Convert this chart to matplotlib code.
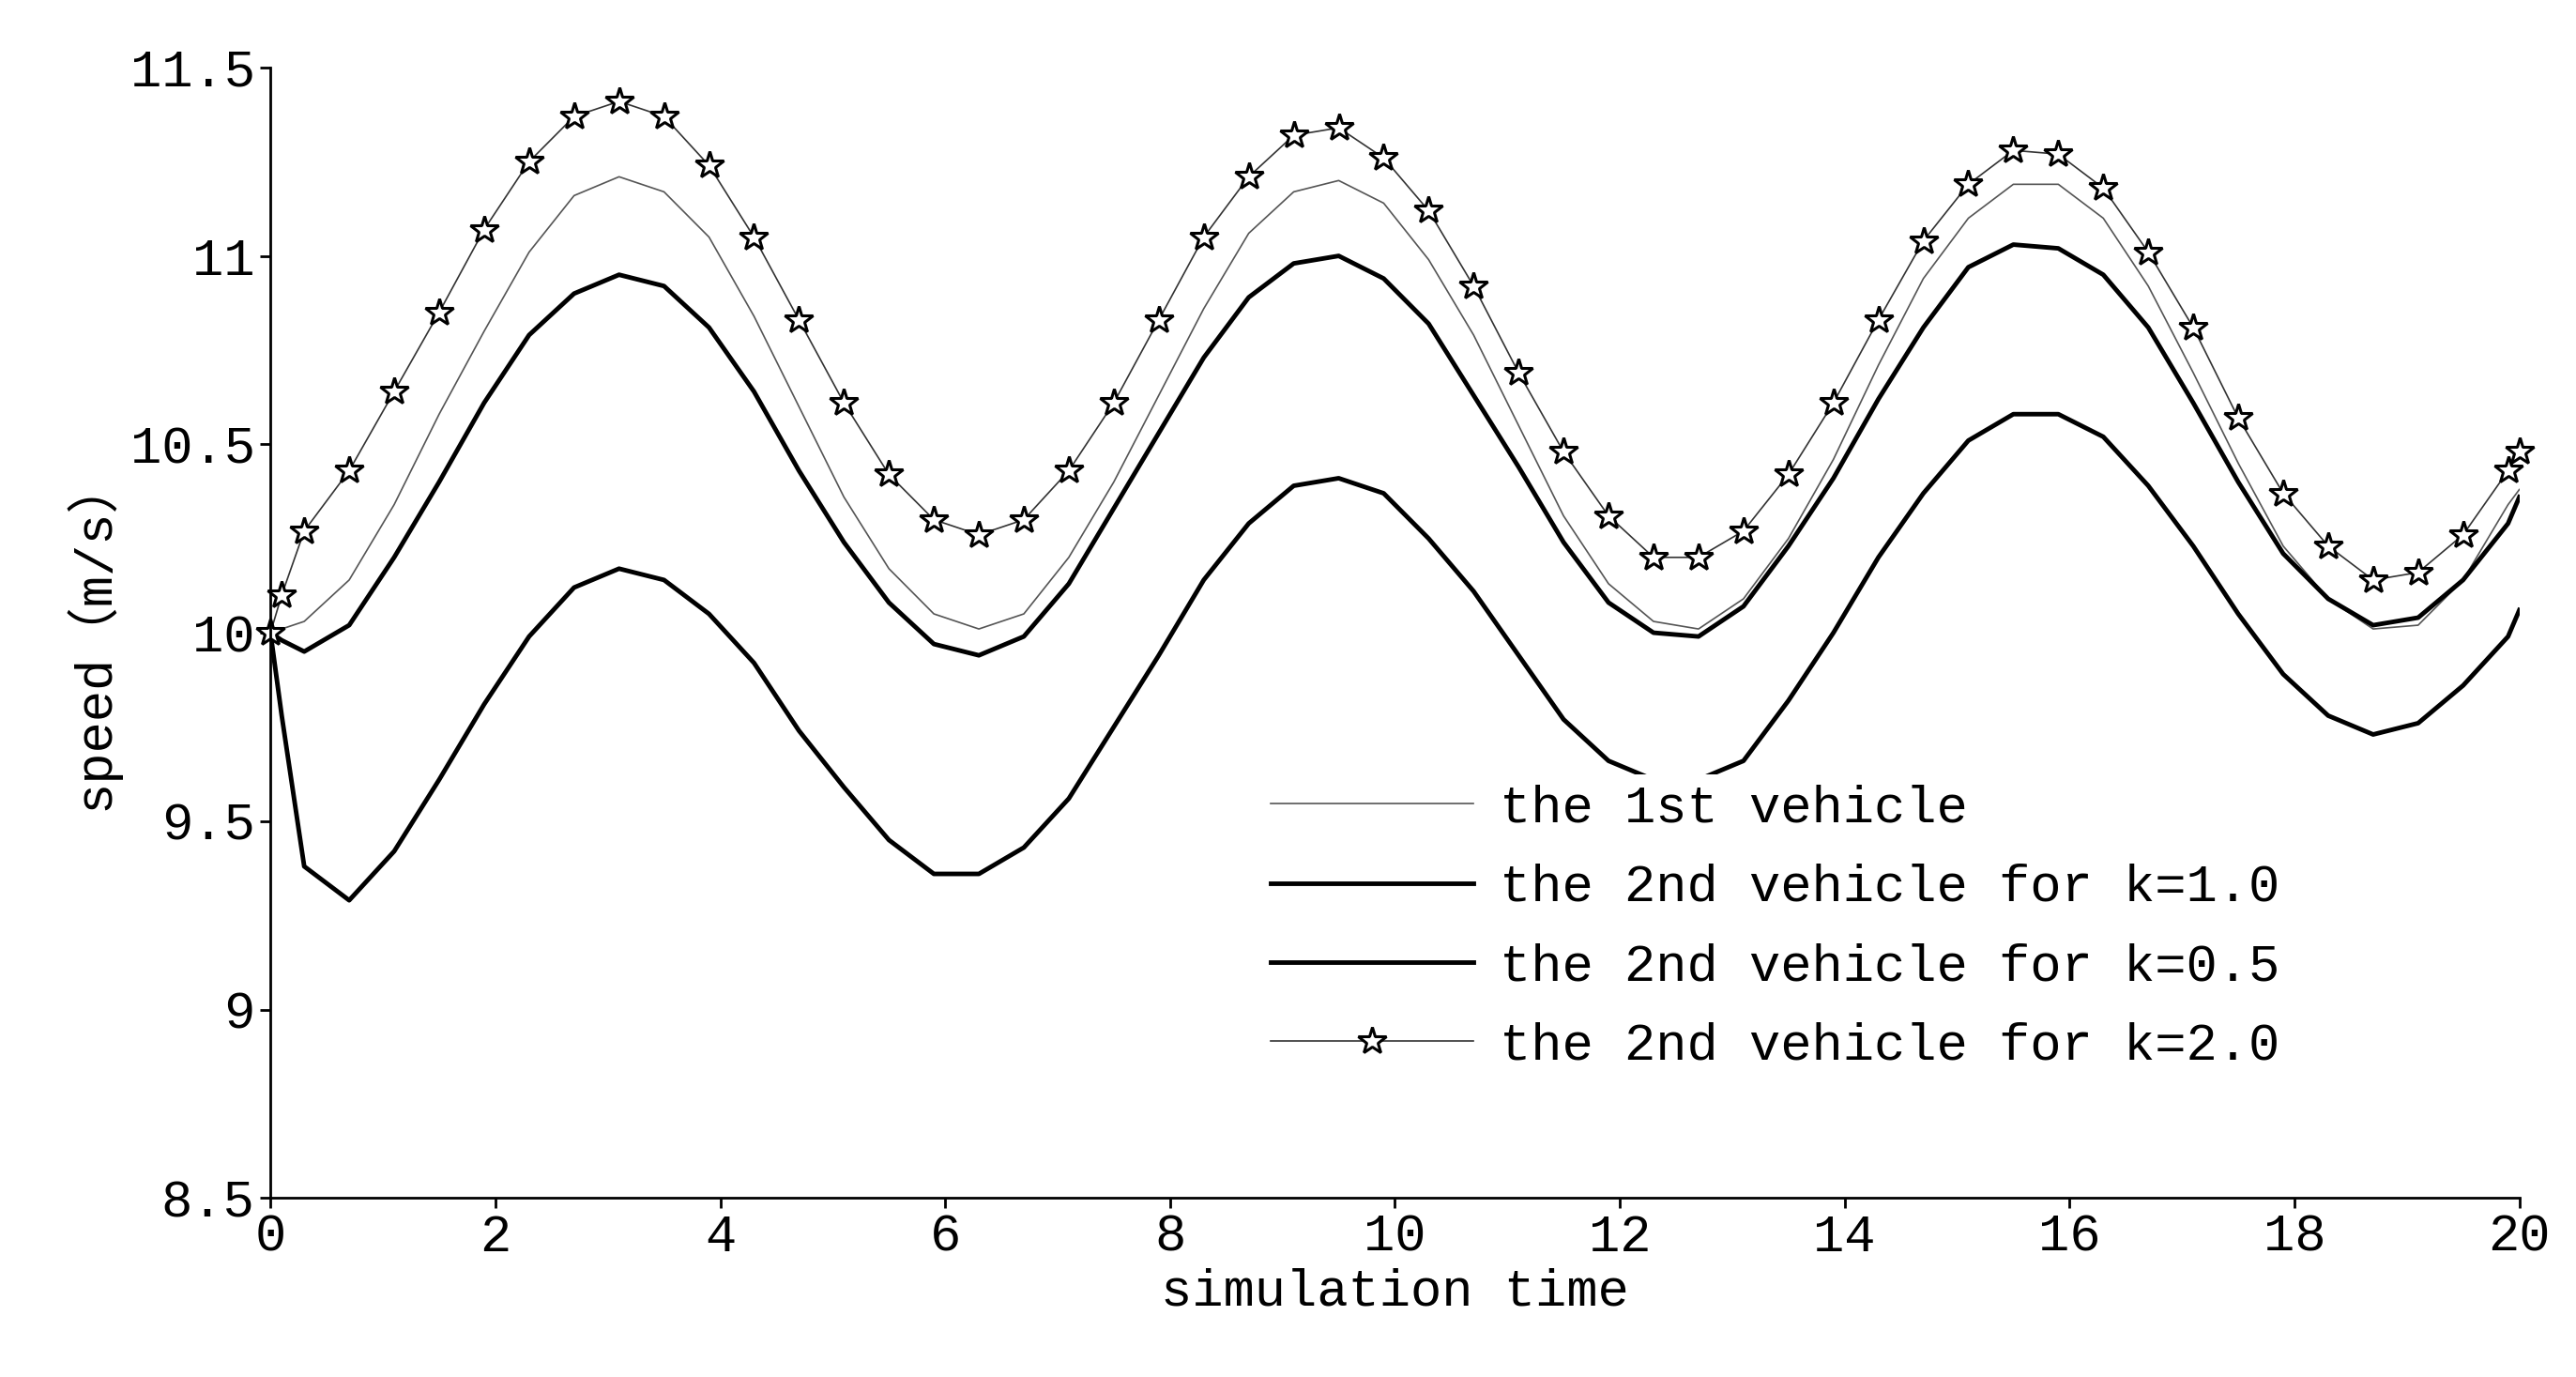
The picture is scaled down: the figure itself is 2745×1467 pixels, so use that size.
import matplotlib
matplotlib.use("Agg")
import matplotlib.pyplot as plt

t = [0, 0.1, 0.3] + [round(0.7 + 0.4*i, 1) for i in range(49)] + [20.0]
v1 = [10.0, 10.01, 10.03, 10.14, 10.34, 10.58, 10.80, 11.01, 11.16, 11.21, 11.17, 11.05, 10.84, 10.60, 10.36, 10.17,
      10.05, 10.01, 10.05, 10.20, 10.40, 10.63, 10.86, 11.06, 11.17, 11.20, 11.14, 10.99, 10.79, 10.55, 10.31, 10.13,
      10.03, 10.01, 10.09, 10.25, 10.46, 10.71, 10.94, 11.10, 11.19, 11.19, 11.10, 10.92, 10.69, 10.45, 10.23, 10.09,
      10.01, 10.02, 10.14, 10.34, 10.38]
k10 = [10.0, 9.98, 9.95, 10.02, 10.20, 10.40, 10.61, 10.79, 10.90, 10.95, 10.92, 10.81, 10.64, 10.43, 10.24, 10.08,
       9.97, 9.94, 9.99, 10.13, 10.33, 10.53, 10.73, 10.89, 10.98, 11.00, 10.94, 10.82, 10.63, 10.44, 10.24, 10.08,
       10.00, 9.99, 10.07, 10.23, 10.41, 10.62, 10.81, 10.97, 11.03, 11.02, 10.95, 10.81, 10.61, 10.40, 10.21, 10.09,
       10.02, 10.04, 10.14, 10.29, 10.36]
k05 = [10.0, 9.78, 9.38, 9.29, 9.42, 9.61, 9.81, 9.99, 10.12, 10.17, 10.14, 10.05, 9.92, 9.74, 9.59, 9.45,
       9.36, 9.36, 9.43, 9.56, 9.75, 9.94, 10.14, 10.29, 10.39, 10.41, 10.37, 10.25, 10.11, 9.94, 9.77, 9.66,
       9.61, 9.61, 9.66, 9.82, 10.00, 10.20, 10.37, 10.51, 10.58, 10.58, 10.52, 10.39, 10.23, 10.05, 9.89, 9.78,
       9.73, 9.76, 9.86, 9.99, 10.06]
k20 = [10.0, 10.10, 10.27, 10.43, 10.64, 10.85, 11.07, 11.25, 11.37, 11.41, 11.37, 11.24, 11.05, 10.83, 10.61, 10.42,
       10.30, 10.26, 10.30, 10.43, 10.61, 10.83, 11.05, 11.21, 11.32, 11.34, 11.26, 11.12, 10.92, 10.69, 10.48, 10.31,
       10.20, 10.20, 10.27, 10.42, 10.61, 10.83, 11.04, 11.19, 11.28, 11.27, 11.18, 11.01, 10.81, 10.57, 10.37, 10.23,
       10.14, 10.16, 10.26, 10.43, 10.48]
xticks = [0, 2, 4, 6, 8, 10, 12, 14, 16, 18, 20]
yticks = [8.5, 9, 9.5, 10, 10.5, 11, 11.5]
ylabels = ["8.5", "9", "9.5", "10", "10.5", "11", "11.5"]

plt.rcParams['font.family'] = ['Liberation Mono', 'Noto Sans CJK SC', 'DejaVu Sans']
fig = plt.figure(figsize=(27.45, 14.67), dpi=100)
ax = fig.add_axes([0.105, 0.13, 0.873, 0.821])
ax.plot(t, v1, color='#555555', lw=1.2, label='the 1st vehicle')
ax.plot(t, k10, color='black', lw=3.5, label='the 2nd vehicle for k=1.0')
ax.plot(t, k05, color='black', lw=3.5, label='the 2nd vehicle for k=0.5')
ax.plot(t, k20, color='#333333', lw=1.2, marker='*', markersize=22, markerfacecolor='white',
        markeredgecolor='black', markeredgewidth=2.2, label='the 2nd vehicle for k=2.0', clip_on=False)
ax.set_xlim(0, 20)
ax.set_ylim(8.5, 11.5)
ax.set_xticks(xticks)
ax.set_yticks(yticks)
ax.set_yticklabels(ylabels)
ax.tick_params(labelsize=40, width=2, length=8, direction='out', pad=4)
for s in ['top', 'right']:
    ax.spines[s].set_visible(False)
for s in ['left', 'bottom']:
    ax.spines[s].set_linewidth(2)
ax.set_xlabel('simulation time', fontsize=40, labelpad=4)
ax.set_ylabel('speed（m/s）', fontsize=40, labelpad=8)
leg = ax.legend(loc='upper left', bbox_to_anchor=(0.44, 0.375), fontsize=40, frameon=True,
                handlelength=3.9, handletextpad=0.5, labelspacing=0.58, borderpad=0.2, borderaxespad=0)
leg.get_frame().set_edgecolor('none')
leg.get_frame().set_facecolor('white')
leg.get_frame().set_alpha(1)
fig.savefig('out.png', dpi=100)
